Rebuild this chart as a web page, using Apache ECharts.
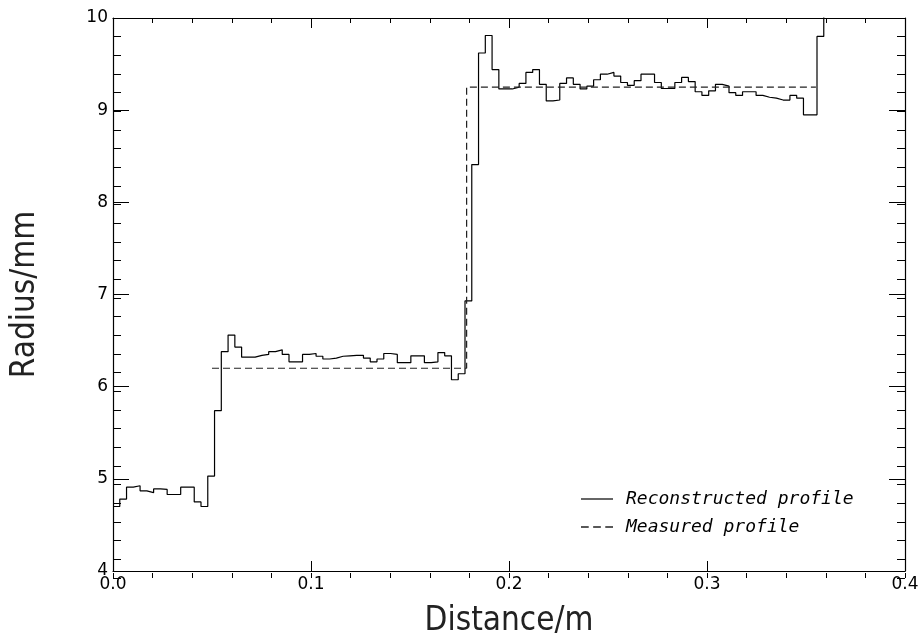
<!DOCTYPE html>
<html>
<head>
<meta charset="utf-8">
<script src="https://cdn.jsdelivr.net/npm/echarts@6/dist/echarts.min.js"></script>
<style>
html,body{margin:0;padding:0;background:#fff;}
#chart{width:922px;height:643px;}
</style>
</head>
<body>
<div id="chart"></div>
<script>
// Reconstructed profile: radius (mm) in consecutive bins starting at 0 m
const binStart = 0.0;
const binWidth = 0.4 / 117;
const reconstructedRadius = [
  4.70, 4.78, 4.91, 4.925, 4.87, 4.85, 4.89, 4.885, 4.83, 4.83,
  4.91, 4.91, 4.75, 4.70, 5.03, 5.74, 6.38, 6.56, 6.43, 6.32,
  6.32, 6.34, 6.35, 6.38, 6.40, 6.35, 6.27, 6.27, 6.35, 6.36,
  6.33, 6.30, 6.31, 6.33, 6.335, 6.34, 6.34, 6.31, 6.27, 6.30,
  6.36, 6.35, 6.26, 6.26, 6.335, 6.335, 6.26, 6.27, 6.37, 6.335,
  6.075, 6.14, 6.93, 8.41, 9.62, 9.81, 9.44, 9.23, 9.23, 9.25,
  9.29, 9.41, 9.44, 9.28, 9.10, 9.11, 9.29, 9.35, 9.28, 9.23,
  9.26, 9.33, 9.39, 9.41, 9.37, 9.30, 9.27, 9.32, 9.39, 9.39,
  9.30, 9.235, 9.235, 9.30, 9.355, 9.31, 9.20, 9.16, 9.21, 9.28,
  9.26, 9.19, 9.16, 9.20, 9.20, 9.16, 9.14, 9.13, 9.11, 9.11,
  9.16, 9.13, 8.95, 8.95, 9.80, 10.5
];
// Measured profile: corner points (distance m, radius mm)
const measuredDistance = [0.05, 0.1786, 0.1786, 0.355];
const measuredRadius   = [6.2, 6.2, 9.25, 9.25];

const xTicks = ['0.0', '0.1', '0.2', '0.3', '0.4'];
const yTicks = ['4', '5', '6', '7', '8', '9', '10'];
const seriesNames = ['Reconstructed profile', 'Measured profile'];

const recData = reconstructedRadius.map((v, k) => [binStart + k * binWidth, v]);
recData.push([binStart + reconstructedRadius.length * binWidth, reconstructedRadius[reconstructedRadius.length - 1]]);
const measData = measuredDistance.map((d, i) => [d, measuredRadius[i]]);

const tickFont = "'DejaVu Sans', sans-serif";
const titleFont = "'DejaVu Sans Condensed', 'DejaVu Sans', sans-serif";

const gridRect = { left: 113, right: 17, top: 18, bottom: 65, containLabel: false };
const lineOn = { show: true, onZero: false, lineStyle: { color: '#000', width: 1.2 } };
const lineOff = { show: false, onZero: false };
const tickStyle = { color: '#000', width: 1 };

function xAx(grid, pos, interval, len, withLine, labels) {
  const a = {
    type: 'value', gridIndex: grid, position: pos, min: 0, max: 0.4, interval: interval,
    axisLine: withLine ? lineOn : lineOff,
    axisTick: { show: true, inside: true, length: len, lineStyle: tickStyle },
    minorTick: { show: false }, splitLine: { show: false },
    axisLabel: { show: false }
  };
  if (labels) {
    a.axisLabel = {
      show: true, margin: 5, fontFamily: tickFont, fontSize: 17, color: '#000',
      formatter: (v) => xTicks[Math.round(v * 10)]
    };
    a.name = 'Distance/m';
    a.nameLocation = 'middle';
    a.nameGap = 34;
    a.nameTextStyle = { fontFamily: titleFont, fontSize: 33, color: '#222' };
  }
  return a;
}
function yAx(grid, pos, interval, len, withLine, labels) {
  const a = {
    type: 'value', gridIndex: grid, position: pos, min: 4, max: 10, interval: interval,
    axisLine: withLine ? lineOn : lineOff,
    axisTick: { show: true, inside: true, length: len, lineStyle: tickStyle },
    minorTick: { show: false }, splitLine: { show: false },
    axisLabel: { show: false }
  };
  if (labels) {
    a.axisLabel = {
      show: true, margin: 5, fontFamily: tickFont, fontSize: 17, color: '#000',
      formatter: (v) => yTicks[Math.round(v - 4)]
    };
    a.name = 'Radius/mm';
    a.nameLocation = 'middle';
    a.nameGap = 71;
    a.nameTextStyle = { fontFamily: titleFont, fontSize: 33, color: '#222' };
  }
  return a;
}

const chart = echarts.init(document.getElementById('chart'), null, { renderer: 'canvas' });
chart.setOption({
  animation: false,
  backgroundColor: '#fff',
  grid: [Object.assign({}, gridRect), Object.assign({}, gridRect)],
  legend: {
    orient: 'vertical',
    left: 581, top: 490,
    padding: 0,
    itemWidth: 32, itemHeight: 14, itemGap: 10,
    data: [
      { name: seriesNames[0], icon: 'path://M0,0H32V1.2H0Z' },
      { name: seriesNames[1], icon: 'path://M0,0H7V1.2H0ZM11,0H18V1.2H11ZM22,0H29V1.2H22Z' }
    ],
    itemStyle: { borderWidth: 0 },
    textStyle: { fontFamily: "'DejaVu Sans Mono', monospace", fontStyle: 'italic', fontSize: 18, color: '#000', padding: [0, 0, 0, 8] }
  },
  xAxis: [
    xAx(0, 'bottom', 0.1, 10, true, true),
    xAx(0, 'top', 0.1, 10, true, false),
    xAx(1, 'bottom', 0.02, 5, false, false),
    xAx(1, 'top', 0.02, 5, false, false)
  ],
  yAxis: [
    yAx(0, 'left', 1, 16, true, true),
    yAx(0, 'right', 1, 16, true, false),
    yAx(1, 'left', 0.2, 8, false, false),
    yAx(1, 'right', 0.2, 8, false, false)
  ],
  series: [
    {
      name: seriesNames[0], type: 'line', step: 'end',
      xAxisIndex: 0, yAxisIndex: 0,
      data: recData, symbol: 'none', showSymbol: false, clip: true,
      lineStyle: { color: '#000', width: 1.2, type: 'solid' },
      itemStyle: { color: '#000' }
    },
    {
      name: seriesNames[1], type: 'line',
      xAxisIndex: 0, yAxisIndex: 0,
      data: measData, symbol: 'none', showSymbol: false, clip: true,
      lineStyle: { color: '#222', width: 1.2, type: [7, 4] },
      itemStyle: { color: '#222' }
    }
  ]
});
</script>
</body>
</html>
